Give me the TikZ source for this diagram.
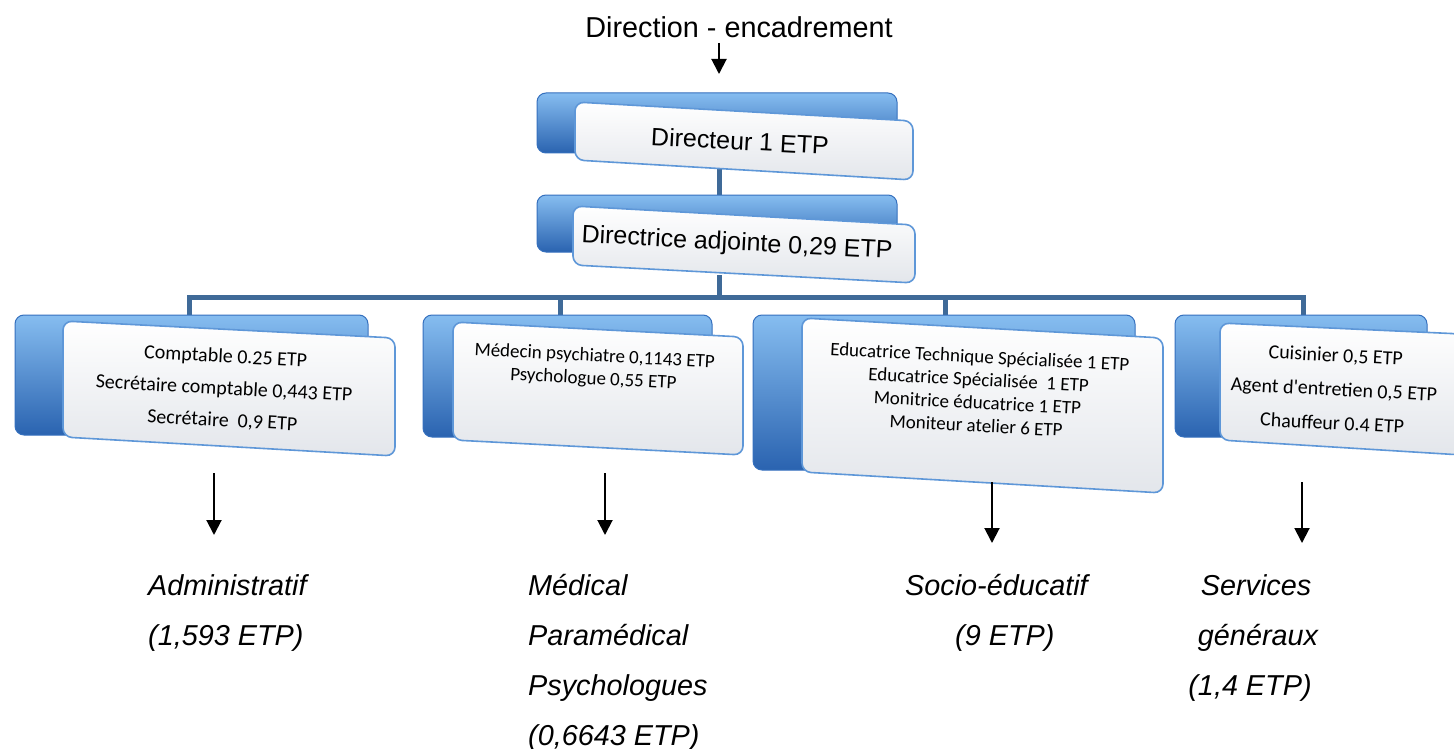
\documentclass[tikz,border=0pt]{standalone}
\usepackage{fontspec}
\setmainfont{Liberation Sans}
\newfontfamily\cardfont{Carlito}
\usetikzlibrary{arrows.meta}
\definecolor{busblue}{HTML}{3F6A98}
\definecolor{backtop}{HTML}{86BDF0}
\definecolor{backbot}{HTML}{2A63B0}
\definecolor{backedge}{HTML}{3570BE}
\definecolor{cardedge}{HTML}{5E97D8}
\definecolor{cardbot}{HTML}{E3E6EB}
\begin{document}
\begin{tikzpicture}[x=1pt,y=-1pt,
  backbox/.style={rounded corners=9pt, top color=backtop, bottom color=backbot, draw=backedge, line width=1pt},
  card/.style={rounded corners=9pt, top color=white, bottom color=cardbot, draw=cardedge, line width=1.6pt},
  bus/.style={draw=busblue, line width=5pt, line join=miter},
  down/.style={draw=black, line width=2pt, -{Triangle[width=15pt,length=15pt]}},
  toptext/.style={font=\fontsize{25}{30}\selectfont, rotate=-3, inner sep=0pt},
  cardtext/.style={font=\cardfont\fontsize{20}{32}\selectfont, align=center, rotate=-3, inner sep=0pt},
  cardtextb/.style={cardtext, font=\cardfont\fontsize{19}{23}\selectfont},
  cardtextc/.style={cardtext, font=\cardfont\fontsize{20}{34}\selectfont},
  lab/.style={font=\fontsize{28.8}{50}\selectfont\itshape, inner sep=0pt},
]
\useasboundingbox[fill=white] (0,0) rectangle (1454,749);

% title and first arrow
\node[font=\fontsize{28.8}{34}\selectfont, inner sep=0pt, anchor=base] (title) at (739,38) {Direction - encadrement};
\coordinate (t1) at (719,43);
\coordinate (dirtop) at (719,74);
\draw[down] (t1) -- (dirtop);

% connectors (behind boxes)
\coordinate (dirbot) at (719,168);
\coordinate (adjtop) at (719,197);
\coordinate (adjbot) at (719,275);
\coordinate (busc) at (719,297);
\coordinate (bl) at (189,297);
\coordinate (br) at (1303,297);
\coordinate (d1) at (189,318);
\coordinate (d2) at (560,318);
\coordinate (d3) at (945,318);
\coordinate (d4) at (1303,318);
\draw[bus] (dirbot) -- (adjtop);
\draw[bus] (adjbot) -- (busc);
\draw[bus] (d1) -- (bl) -- (br) -- (d4);
\draw[bus] (d2 |- bl) -- (d2);
\draw[bus] (d3 |- bl) -- (d3);

% director
\draw[backbox] (537,93) rectangle (897,153);
\draw[card] (575,102) -- (913,121) -- (913,180) -- (575,160) -- cycle;
\node[toptext] (dir) at (740,141) {Directeur 1 ETP};

% adjointe
\draw[backbox] (537,195) rectangle (897,252);
\draw[card] (573,206) -- (915,225) -- (915,283) -- (573,265) -- cycle;
\node[toptext] (adj) at (737,244) {Directrice adjointe 0,29 ETP};

% administratif
\draw[backbox] (15,315) rectangle (368,435);
\draw[card] (63,321) -- (395,338) -- (395,456) -- (63,437) -- cycle;
\node[cardtext] (adm) at (224,389) {Comptable 0.25 ETP\\Secrétaire comptable 0,443 ETP\\Secrétaire\ \ 0,9 ETP};

% medical
\draw[backbox] (423,315) rectangle (712,437);
\draw[card] (453,322) -- (743,337) -- (743,455) -- (453,440) -- cycle;
\node[cardtextb] (med) at (594,368) {Médecin psychiatre 0,1143 ETP\\Psychologue 0,55 ETP};

% socio-educatif
\draw[backbox] (753,315) rectangle (1135,470);
\draw[card] (802,318) -- (1163,338) -- (1163,493) -- (802,472) -- cycle;
\node[cardtextb] (soc) at (978,391) {Educatrice Technique Spécialisée 1 ETP\\Educatrice Spécialisée\ \ 1 ETP\\Monitrice éducatrice 1 ETP\\Moniteur atelier 6 ETP};

% services generaux
\draw[backbox] (1175,315) rectangle (1427,437);
\draw[card] (1220,323) -- (1462,334) -- (1462,455) -- (1220,440) -- cycle;
\node[cardtextc] (srv) at (1334,389) {Cuisinier 0,5 ETP\\Agent d'entretien 0,5 ETP\\Chauffeur 0.4 ETP};

% arrows down
\coordinate (a1s) at (214,473);
\coordinate (a1e) at (214,535);
\coordinate (a2s) at (605,473);
\coordinate (a2e) at (605,535);
\coordinate (a3s) at (992,482);
\coordinate (a3e) at (992,543);
\coordinate (a4s) at (1302,482);
\coordinate (a4e) at (1302,543);
\draw[down] (a1s) -- (a1e);
\draw[down] (a2s) -- (a2e);
\draw[down] (a3s) -- (a3e);
\draw[down] (a4s) -- (a4e);

% bottom labels
\node[lab, anchor=base west] (l1a) at (148,595) {Administratif};
\node[lab, anchor=base west] (l1b) at (148,645) {(1,593 ETP)};
\node[lab, anchor=base west] (l2a) at (528,595) {Médical};
\node[lab, anchor=base west] (l2b) at (528,645) {Paramédical};
\node[lab, anchor=base west] (l2c) at (528,695) {Psychologues};
\node[lab, anchor=base west] (l2d) at (528,745) {(0,6643 ETP)};
\node[lab, anchor=base west] (l3a) at (905,595) {Socio-éducatif};
\node[lab, anchor=base west] (l3b) at (955,645) {(9 ETP)};
\node[lab, anchor=base] (l4a) at (1256,595) {Services};
\node[lab, anchor=base] (l4b) at (1258,645) {généraux};
\node[lab, anchor=base] (l4c) at (1250,695) {(1,4 ETP)};
\end{tikzpicture}
\end{document}
